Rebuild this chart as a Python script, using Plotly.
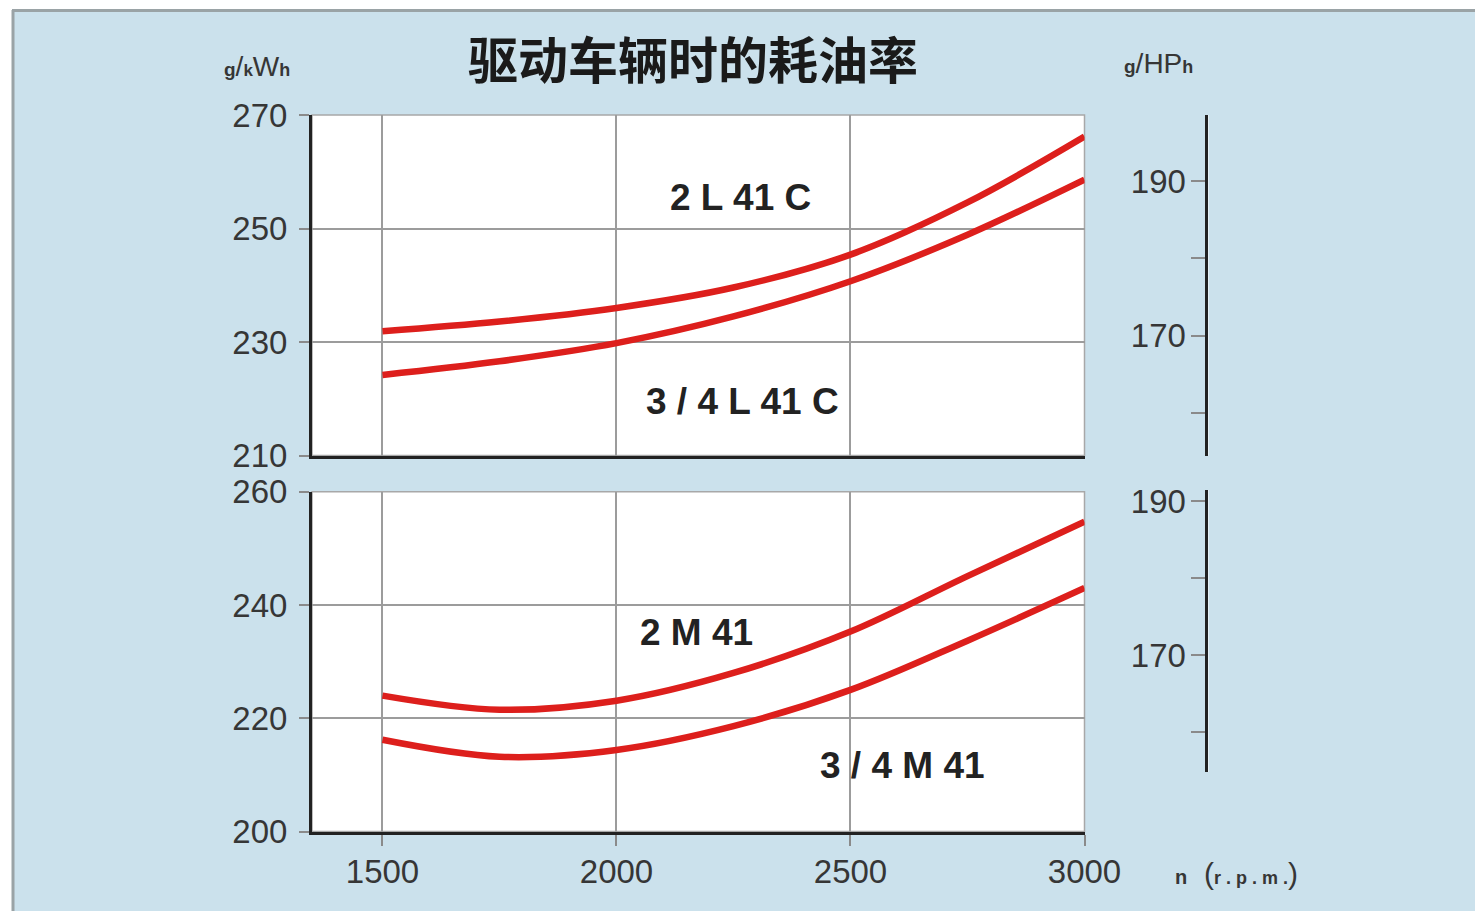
import plotly.graph_objects as go

# ---------------- data ----------------
rpm = [1500, 1750, 2000, 2250, 2500, 2750, 3000]
l41c_2 = [231.9, 233.6, 236.0, 239.6, 245.4, 254.6, 266.2]
l41c_34 = [224.2, 226.6, 229.8, 234.5, 240.7, 248.9, 258.6]
m41_2 = [224.0, 221.5, 223.1, 228.0, 235.3, 245.1, 254.7]
m41_34 = [216.2, 213.2, 214.4, 218.6, 225.0, 233.7, 243.0]

x_ticks = [1500, 2000, 2500, 3000]
top_ticks = [210, 230, 250, 270]
bot_ticks = [200, 220, 240, 260]
hp_ticks = [160, 170, 180, 190]
hp_ticktext = ["", "170", "", "190"]
top_range = [210, 270]
bot_range = [200, 260]
HP_FACTOR = 0.7355  # g/HPh = g/kWh * 0.7355

title = "驱动车辆时的耗油率"
labels = ["2 L 41 C", "3 / 4 L 41 C", "2 M 41", "3 / 4 M 41"]

# ---------------- styling ----------------
W, H = 1475, 911
RED = "#dd1f1c"
BLUE = "#cbe1ec"
AXC = "#222222"
GRID = "#9c9c9c"
TXT = "#363636"
FONT = "Liberation Sans, Arial, sans-serif"

def px_x(p):
    return p / W

def px_y(p):
    return 1 - p / H

XD = [px_x(312), px_x(1084.5)]
TOPD = [px_y(455.5), px_y(115)]
BOTD = [px_y(831.5), px_y(491.7)]
BOTR_D = [px_y(772), px_y(490)]
XR = [1349.4, 3000]

def kwh_at_bottom(p):
    return bot_range[0] + (p - BOTD[0]) / (BOTD[1] - BOTD[0]) * (bot_range[1] - bot_range[0])

fig = go.Figure()
for ys in (l41c_2, l41c_34):
    fig.add_trace(go.Scatter(x=rpm, y=ys, mode="lines", xaxis="x", yaxis="y",
                             line=dict(color=RED, width=6.5, shape="spline", smoothing=1.0),
                             showlegend=False, hoverinfo="skip"))
for ys in (m41_2, m41_34):
    fig.add_trace(go.Scatter(x=rpm, y=ys, mode="lines", xaxis="x2", yaxis="y2",
                             line=dict(color=RED, width=6.5, shape="spline", smoothing=1.0),
                             showlegend=False, hoverinfo="skip"))
# carriers for the g/HPh axes
for ya in ("y3", "y4"):
    fig.add_trace(go.Scatter(x=[None], y=[None], mode="lines", xaxis="x3", yaxis=ya,
                             showlegend=False, hoverinfo="skip"))

common_y = dict(ticks="outside", ticklen=10, tickwidth=1.5, tickcolor="#8a8a8a",
                showline=True, linecolor=AXC, linewidth=3, showgrid=True,
                gridcolor=GRID, gridwidth=1.5, zeroline=False, automargin=False,
                tickfont=dict(family=FONT, size=33, color=TXT), ticklabelstandoff=5)
common_x = dict(range=XR, domain=XD, tickvals=x_ticks, showline=True, linecolor=AXC,
                linewidth=3, showgrid=True, gridcolor=GRID, gridwidth=1.5, zeroline=False,
                automargin=False)
hp_axis = dict(anchor="x3", side="left", tickvals=hp_ticks, ticktext=hp_ticktext,
               ticks="outside", ticklen=14, tickwidth=1.5, tickcolor="#8a8a8a",
               showline=True, linecolor=AXC, linewidth=3, showgrid=False, zeroline=False,
               automargin=False,
               tickfont=dict(family=FONT, size=33, color=TXT), ticklabelstandoff=-2)

fig.update_layout(
    width=W, height=H,
    margin=dict(l=0, r=0, t=0, b=0, autoexpand=False),
    paper_bgcolor=BLUE, plot_bgcolor="white",
    xaxis=dict(anchor="y", ticks="", showticklabels=False, **common_x),
    yaxis=dict(domain=TOPD, range=top_range, anchor="x", tickvals=top_ticks, **common_y),
    xaxis2=dict(anchor="y2", ticks="outside", ticklen=11, tickwidth=1.5, tickcolor="#8a8a8a",
                tickfont=dict(family=FONT, size=33, color=TXT), ticklabelstandoff=-2,
                **common_x),
    yaxis2=dict(domain=BOTD, range=bot_range, anchor="x2", tickvals=bot_ticks, **common_y),
    xaxis3=dict(domain=[px_x(1207.5), px_x(1208.5)], visible=False, anchor="y3", range=[0, 1]),
    yaxis3=dict(domain=TOPD, range=[top_range[0] * HP_FACTOR, top_range[1] * HP_FACTOR], **hp_axis),
    yaxis4=dict(domain=BOTR_D, range=[kwh_at_bottom(BOTR_D[0]) * HP_FACTOR,
                                      kwh_at_bottom(BOTR_D[1]) * HP_FACTOR], **hp_axis),
)

shapes = [
    # white outer strips and grey frame of the blue card
    dict(type="rect", xref="paper", yref="paper", x0=0, x1=px_x(12), y0=0, y1=1,
         fillcolor="white", line=dict(width=0), layer="below"),
    dict(type="rect", xref="paper", yref="paper", x0=0, x1=1, y0=px_y(9), y1=1,
         fillcolor="white", line=dict(width=0), layer="below"),
    dict(type="line", xref="paper", yref="paper", x0=px_x(13), x1=px_x(13), y0=0, y1=px_y(10),
         line=dict(color="#9aa3a6", width=3), layer="below"),
    dict(type="line", xref="paper", yref="paper", x0=px_x(12), x1=1, y0=px_y(10.5), y1=px_y(10.5),
         line=dict(color="#9aa3a6", width=3), layer="below"),
]
for xr, yr in (("x", "y"), ("x2", "y2")):
    shapes.append(dict(type="rect", xref=xr + " domain", yref=yr + " domain",
                       x0=0, x1=1, y0=0, y1=1, line=dict(color="#a8a8a8", width=1.5),
                       fillcolor="rgba(0,0,0,0)", layer="below"))
fig.update_layout(shapes=shapes)

ann = [
    dict(text="<b>" + title + "</b>", x=px_x(693), y=px_y(57),
         font=dict(family="Noto Sans CJK SC", size=50, color="#1a1a1a")),
    dict(text="<b><span style='font-size:19px'>g</span></b>/<b><span style='font-size:17px'>k</span></b>W<b><span style='font-size:18px'>h</span></b>",
         x=px_x(257), y=px_y(66), font=dict(family=FONT, size=28, color=TXT)),
    dict(text="<b><span style='font-size:19px'>g</span></b>/HP<b><span style='font-size:18px'>h</span></b>",
         x=px_x(1158), y=px_y(64), font=dict(family=FONT, size=28, color=TXT)),
    dict(text="<b><span style='font-size:20px'>n</span></b>  (<span style='font-size:18px'><b>r . p . m .</b></span>)",
         x=px_x(1236), y=px_y(873), font=dict(family=FONT, size=30, color=TXT)),
]
for a in ann:
    a.update(xref="paper", yref="paper", showarrow=False, xanchor="center", yanchor="middle")

curve_labels = [
    (labels[0], 2264, 255.4, "x", "y"),
    (labels[1], 2270, 219.6, "x", "y"),
    (labels[2], 2172, 235.2, "x2", "y2"),
    (labels[3], 2612, 211.6, "x2", "y2"),
]
for t, xv, yv, xr, yr in curve_labels:
    ann.append(dict(text="<b>" + t + "</b>", x=xv, y=yv, xref=xr, yref=yr, showarrow=False,
                    xanchor="center", yanchor="middle",
                    font=dict(family=FONT, size=37, color="#222222")))
fig.update_layout(annotations=ann)

fig.write_html("out.html", config={"displayModeBar": False},
               post_script="document.body.style.margin='0';document.body.style.overflow='hidden';")
